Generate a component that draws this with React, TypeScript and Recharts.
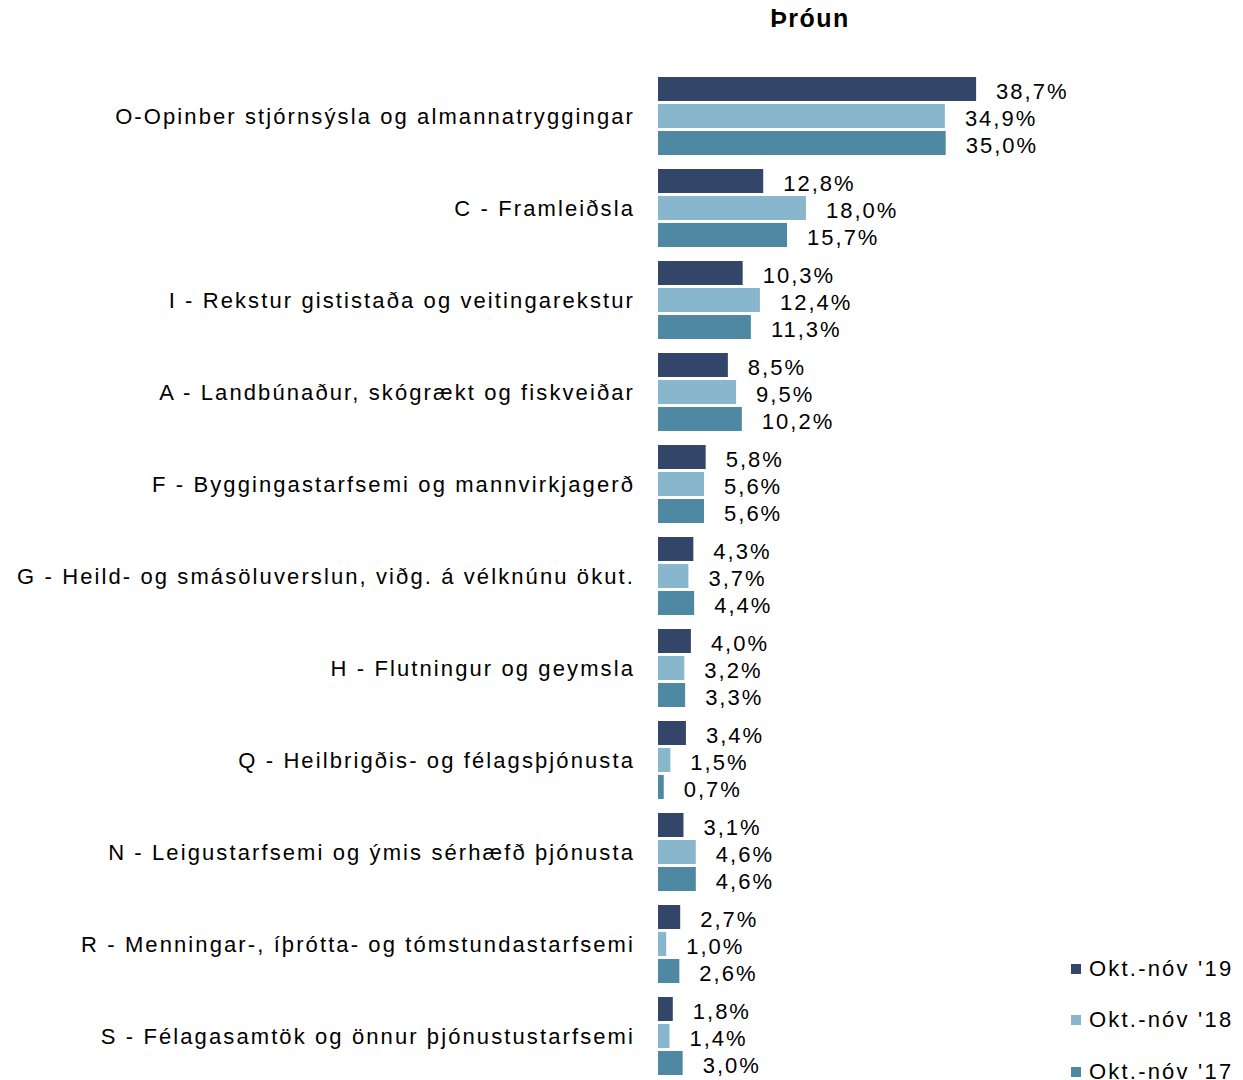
import { BarChart, Bar, XAxis, YAxis, LabelList } from 'recharts';

const categories = [
  'O-Opinber stjórnsýsla og almannatryggingar',
  'C - Framleiðsla',
  'I - Rekstur gististaða og veitingarekstur',
  'A - Landbúnaður, skógrækt og fiskveiðar',
  'F - Byggingastarfsemi og mannvirkjagerð',
  'G - Heild- og smásöluverslun, viðg. á vélknúnu ökut.',
  'H - Flutningur og geymsla',
  'Q - Heilbrigðis- og félagsþjónusta',
  'N - Leigustarfsemi og ýmis sérhæfð þjónusta',
  'R - Menningar-, íþrótta- og tómstundastarfsemi',
  'S - Félagasamtök og önnur þjónustustarfsemi',
];

const okt19 = [38.7, 12.8, 10.3, 8.5, 5.8, 4.3, 4.0, 3.4, 3.1, 2.7, 1.8];
const okt18 = [34.9, 18.0, 12.4, 9.5, 5.6, 3.7, 3.2, 1.5, 4.6, 1.0, 1.4];
const okt17 = [35.0, 15.7, 11.3, 10.2, 5.6, 4.4, 3.3, 0.7, 4.6, 2.6, 3.0];

const seriesNames = ["Okt.-nóv '19", "Okt.-nóv '18", "Okt.-nóv '17"];
const colors = ['#33466a', '#88b6cc', '#4f88a3'];

const data = categories.map((name, i) => ({
  name,
  s19: okt19[i],
  s18: okt18[i],
  s17: okt17[i],
}));

const font = '"Liberation Sans", Arial, sans-serif';
const labelStyle = { fill: '#000', fontSize: 22, fontFamily: font, letterSpacing: 2 };

const fmt = (v: any) => `${Number(v).toFixed(1).replace('.', ',')}%`;

// legend kept outside the chart so it doesn't eat into the plot height
const LegendBox = () => (
  <div style={{ position: 'absolute', left: 1071, top: 943, fontFamily: font, fontSize: 22, letterSpacing: 2.2, color: '#000' }}>
    {seriesNames.map((n, i) => (
      <div key={n} style={{ display: 'flex', alignItems: 'center', height: 51.5, whiteSpace: 'nowrap' }}>
        <span style={{ width: 10, height: 10, background: colors[i], marginRight: 8, display: 'inline-block' }} />
        <span>{n}</span>
      </div>
    ))}
  </div>
);

export default function App() {
  return (
    <div style={{ position: 'absolute', left: 0, top: 0, width: 1243, height: 1080, overflow: 'hidden', background: '#fff' }}>
      <div style={{ position: 'absolute', left: 710, top: 4, width: 200, textAlign: 'center', fontFamily: font, fontWeight: 'bold', fontSize: 25, letterSpacing: 1.5 }}>
        Þróun
      </div>
      <BarChart
        width={1243}
        height={1090}
        data={data}
        layout="vertical"
        margin={{ top: 70, right: 174, bottom: 8, left: 0 }}
        barCategoryGap={7}
        barGap={3}
      >
        <XAxis type="number" domain={[0, 50]} hide />
        <YAxis
          type="category"
          dataKey="name"
          width={658}
          axisLine={false}
          tickLine={false}
          tickMargin={17}
          interval={0}
          tick={{ fill: '#000', fontSize: 22, fontFamily: font, letterSpacing: 2.1 }}
        />
        <Bar dataKey="s19" name={seriesNames[0]} fill={colors[0]} isAnimationActive={false}>
          <LabelList dataKey="s19" position="right" offset={20} dy={2} formatter={fmt} style={labelStyle} />
        </Bar>
        <Bar dataKey="s18" name={seriesNames[1]} fill={colors[1]} isAnimationActive={false}>
          <LabelList dataKey="s18" position="right" offset={20} dy={2} formatter={fmt} style={labelStyle} />
        </Bar>
        <Bar dataKey="s17" name={seriesNames[2]} fill={colors[2]} isAnimationActive={false}>
          <LabelList dataKey="s17" position="right" offset={20} dy={2} formatter={fmt} style={labelStyle} />
        </Bar>
      </BarChart>
      <LegendBox />
    </div>
  );
}
